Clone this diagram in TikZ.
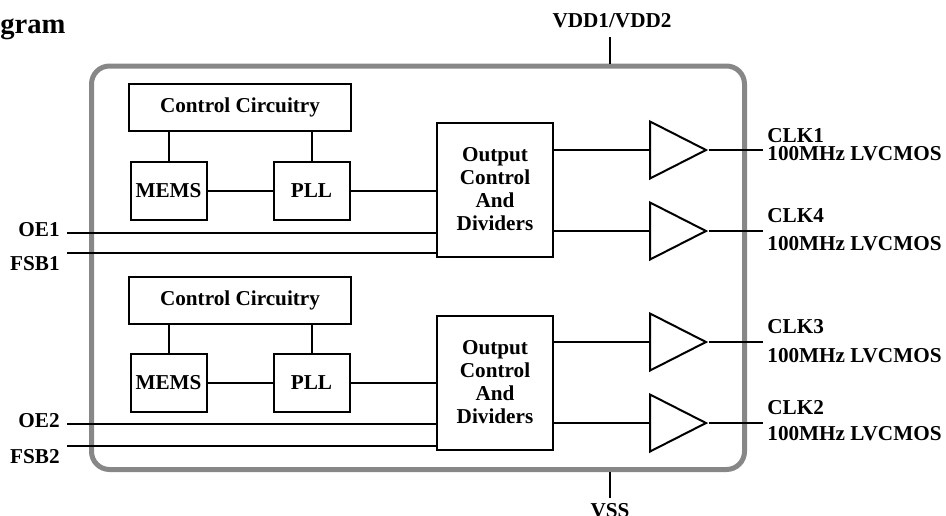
\documentclass[tikz,border=0pt]{standalone}
\usepackage{fontspec}
\setmainfont{Liberation Serif}
\usetikzlibrary{shapes.geometric}
\usetikzlibrary{positioning}
\usetikzlibrary{calc}
\tikzset{
  >=latex,
  % chip outline and pin labels
  chip/.style={draw=black!47, line width=2.5pt, rounded corners=9pt, minimum width=326.5pt, minimum height=201.75pt},
  pin/.style={inner sep=0pt}
}

\begin{document}
\begin{tikzpicture}[x=0.5pt, y=-0.5pt, font=\bfseries\fontsize{10.6}{11.5}\selectfont]
    \useasboundingbox (0,0) rectangle (946,515);
    % Define styles
    \tikzstyle{blk} = [rectangle, draw, line width=1pt, inner sep=1pt, align=center]
    \tikzstyle{ctlbox} = [blk, minimum width=111pt, minimum height=23.5pt]
    \tikzstyle{smallbox} = [blk, minimum width=38pt, minimum height=29pt]
    \tikzstyle{divbox} = [blk, minimum width=58pt, minimum height=67pt]
    \tikzstyle{buf} = [isosceles triangle, isosceles triangle stretches, draw, line width=1pt, minimum width=28.5pt, minimum height=28pt, inner sep=0pt, anchor=lower side]
    \tikzstyle{line} = [draw, line width=1pt]

    % Title and package
    \node [pin, anchor=base west, font=\bfseries\fontsize{14.3}{16}\selectfont] (title) at (0,33) {gram};
    \node [chip] (chip) at (418,267.75) {};

    % Upper half
    \node [ctlbox] (ctrl1) at (240,107.5) {Control Circuitry};
    \node [smallbox] (mems1) at (168.5,190.5) {MEMS};
    \node [smallbox, right=32.5pt of mems1] (pll1) {PLL};
    \node [divbox] (div1) at (495,189.5) {Output\\Control\\And\\Dividers};
    \node [buf] (buf1) at (649,150) {};
    \node [buf] (buf4) at (649,231) {};

    % Lower half
    \node [ctlbox] (ctrl2) at (240,300.5) {Control Circuitry};
    \node [smallbox] (mems2) at (168.5,383) {MEMS};
    \node [smallbox, right=32.5pt of mems2] (pll2) {PLL};
    \node [divbox] (div2) at (495,382.5) {Output\\Control\\And\\Dividers};
    \node [buf] (buf3) at (649,342) {};
    \node [buf] (buf2) at (649,423) {};

    % Pin ends
    \coordinate (vdd) at (610,37);
    \coordinate (vss) at (610,498);
    \coordinate (oe1) at (67,233);
    \coordinate (fsb1) at (67,253);
    \coordinate (oe2) at (67,424);
    \coordinate (fsb2) at (67,446);
    \coordinate (clk1) at (763,150);
    \coordinate (clk4) at (763,231);
    \coordinate (clk3) at (763,342);
    \coordinate (clk2) at (763,423);

    % Pin labels
    \node [pin, anchor=base] (vddl) at (612,27) {VDD1/VDD2};
    \node [pin, anchor=base] (vssl) at (610,517) {VSS};
    \node [pin, anchor=base east] (oe1l) at (60,236) {OE1};
    \node [pin, anchor=base east] (fsb1l) at (60,270) {FSB1};
    \node [pin, anchor=base east] (oe2l) at (60,427) {OE2};
    \node [pin, anchor=base east] (fsb2l) at (60,463) {FSB2};
    \node [pin, anchor=base west] (clk1l) at (767,142) {CLK1};
    \node [pin, anchor=base west] (clk1f) at (767,160) {100MHz LVCMOS};
    \node [pin, anchor=base west] (clk4l) at (767,222) {CLK4};
    \node [pin, anchor=base west] (clk4f) at (767,250) {100MHz LVCMOS};
    \node [pin, anchor=base west] (clk3l) at (767,333) {CLK3};
    \node [pin, anchor=base west] (clk3f) at (767,362) {100MHz LVCMOS};
    \node [pin, anchor=base west] (clk2l) at (767,414) {CLK2};
    \node [pin, anchor=base west] (clk2f) at (767,440) {100MHz LVCMOS};

    % Draw edges
    \path [line] (vdd) -- (vdd |- chip.north);
    \path [line] (vss) -- (vss |- chip.south);
    \path [line] (mems1) -- (mems1 |- ctrl1.south);
    \path [line] (pll1) -- (pll1 |- ctrl1.south);
    \path [line] (mems1) -- (pll1);
    \path [line] (pll1) -- (pll1 -| div1.west);
    \path [line] (oe1) -- (oe1 -| div1.west);
    \path [line] (fsb1) -- (fsb1 -| div1.west);
    \path [line] (buf1.lower side -| div1.east) -- (buf1.lower side);
    \path [line] (buf4.lower side -| div1.east) -- (buf4.lower side);
    \path [line] (buf1.apex) -- (clk1);
    \path [line] (buf4.apex) -- (clk4);
    \path [line] (mems2) -- (mems2 |- ctrl2.south);
    \path [line] (pll2) -- (pll2 |- ctrl2.south);
    \path [line] (mems2) -- (pll2);
    \path [line] (pll2) -- (pll2 -| div2.west);
    \path [line] (oe2) -- (oe2 -| div2.west);
    \path [line] (fsb2) -- (fsb2 -| div2.west);
    \path [line] (buf3.lower side -| div2.east) -- (buf3.lower side);
    \path [line] (buf2.lower side -| div2.east) -- (buf2.lower side);
    \path [line] (buf3.apex) -- (clk3);
    \path [line] (buf2.apex) -- (clk2);

\end{tikzpicture}
\end{document}
